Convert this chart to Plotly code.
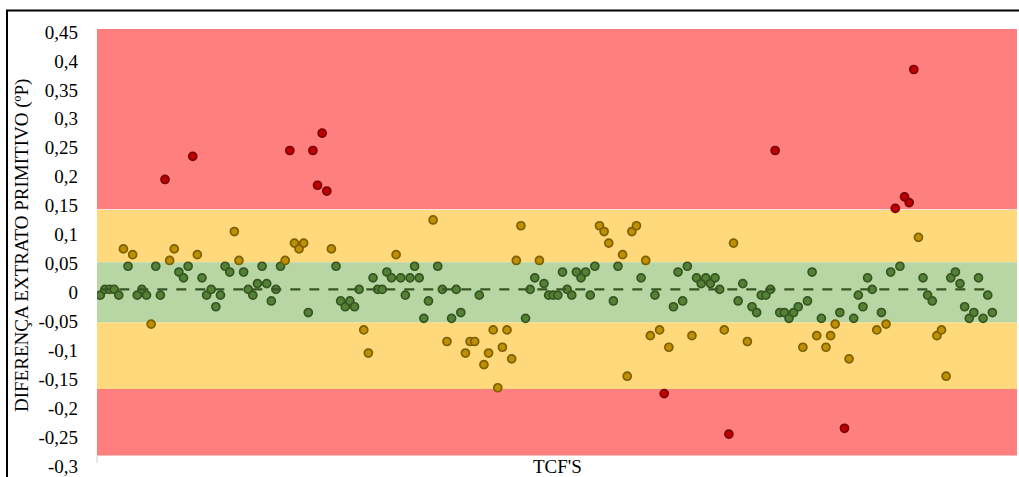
import plotly.graph_objects as go

# Diferença de extrato primitivo por TCF (ºP)
diferenca = [
    -0.01, 0.00, 0.00, 0.00, -0.01, 0.07, 0.04, 0.06, -0.01, 0.00,
    -0.01, -0.06, 0.04, -0.01, 0.19, 0.05, 0.07, 0.03, 0.02, 0.04,
    0.23, 0.06, 0.02, -0.01, 0.00, -0.03, -0.01, 0.04, 0.03, 0.10,
    0.05, 0.03, 0.00, -0.01, 0.01, 0.04, 0.01, -0.02, 0.00, 0.04,
    0.05, 0.24, 0.08, 0.07, 0.08, -0.04, 0.24, 0.18, 0.27, 0.17,
    0.07, 0.04, -0.02, -0.03, -0.02, -0.03, 0.00, -0.07, -0.11, 0.02,
    0.00, 0.00, 0.03, 0.02, 0.06, 0.02, -0.01, 0.02, 0.04, 0.02,
    -0.05, -0.02, 0.12, 0.04, 0.00, -0.09, -0.05, 0.00, -0.04, -0.11,
    -0.09, -0.09, -0.01, -0.13, -0.11, -0.07, -0.17, -0.10, -0.07, -0.12,
    0.05, 0.11, -0.05, 0.00, 0.02, 0.05, 0.01, -0.01, -0.01, -0.01,
    0.03, 0.00, -0.01, 0.03, 0.02, 0.03, -0.01, 0.04, 0.11, 0.10,
    0.08, -0.02, 0.04, 0.06, -0.15, 0.10, 0.11, 0.02, 0.05, -0.08,
    -0.01, -0.07, -0.18, -0.10, -0.03, 0.03, -0.02, 0.04, -0.08, 0.02,
    0.01, 0.02, 0.01, 0.02, 0.00, -0.07, -0.25, 0.08, -0.02, 0.01,
    -0.09, -0.03, -0.04, -0.01, -0.01, 0.00, 0.24, -0.04, -0.04, -0.05,
    -0.04, -0.03, -0.10, -0.02, 0.03, -0.08, -0.05, -0.10, -0.08, -0.06,
    -0.04, -0.24, -0.12, -0.05, -0.01, -0.03, 0.02, 0.00, -0.07, -0.04,
    -0.06, 0.03, 0.14, 0.04, 0.16, 0.15, 0.38, 0.09, 0.02, -0.01,
    -0.02, -0.08, -0.07, -0.15, 0.02, 0.03, 0.01, -0.03, -0.05, -0.04,
    0.02, -0.05, -0.01, -0.04,
]
tcfs = list(range(len(diferenca)))

# Limites das faixas de controle
limite_sup_controle = 0.137
limite_sup_alerta = 0.047
limite_inf_alerta = -0.057
limite_inf_controle = -0.172
eixo_min, eixo_max = -0.3, 0.45
faixa_inferior_fim = -0.287

tick_vals = [0.45, 0.4, 0.35, 0.3, 0.25, 0.2, 0.15, 0.1, 0.05, 0.0,
             -0.05, -0.1, -0.15, -0.2, -0.25, -0.3]
tick_text = ["0,45", "0,4", "0,35", "0,3", "0,25", "0,2", "0,15", "0,1", "0,05", "0",
             "-0,05", "-0,1", "-0,15", "-0,2", "-0,25", "-0,3"]

RED_BAND = "#FF7F7F"
YELLOW_BAND = "#FFD97B"
GREEN_BAND = "#B7D6A4"


def cor_ponto(v):
    if v > limite_sup_controle or v < limite_inf_controle:
        return "#C00000", "#7A0000"
    if v > limite_sup_alerta or v < limite_inf_alerta:
        return "#BF9000", "#7F6000"
    return "#548235", "#375623"


fills = [cor_ponto(v)[0] for v in diferenca]
borders = [cor_ponto(v)[1] for v in diferenca]

fig = go.Figure()

fig.add_trace(go.Scatter(
    x=tcfs, y=diferenca, mode="markers",
    marker=dict(size=8, color=fills, line=dict(color=borders, width=1.7)),
    showlegend=False, hoverinfo="y",
))

fig.add_trace(go.Scatter(
    x=tcfs, y=[0.0] * len(tcfs), mode="lines",
    line=dict(color="#375623", width=2.2, dash="10px,9px"),
    showlegend=False, hoverinfo="skip",
))

bands = [
    (limite_sup_controle + 0.0015, eixo_max, RED_BAND),
    (limite_sup_alerta, limite_sup_controle, YELLOW_BAND),
    (limite_inf_alerta, limite_sup_alerta, GREEN_BAND),
    (limite_inf_controle, limite_inf_alerta, YELLOW_BAND),
    (faixa_inferior_fim, limite_inf_controle, RED_BAND),
]
shapes = []
for y0, y1, c in bands:
    shapes.append(dict(type="rect", xref="paper", yref="y", x0=0, x1=1,
                       y0=y0, y1=y1, fillcolor=c, line=dict(width=0),
                       layer="below"))

# thin axis line left visible under the bands
shapes.append(dict(type="line", xref="paper", yref="y", x0=0, x1=0,
                   y0=eixo_min, y1=faixa_inferior_fim,
                   line=dict(color="#D0D0D0", width=1)))

# outer chart frame (top and left edges)
PW, PL, PT, PH = 920, 97, 29, 434
def px_x(px):
    return (px - PL) / PW
def px_y(py):
    return (PT + PH - py) / PH

shapes.append(dict(type="line", xref="paper", yref="paper",
                   x0=px_x(6), x1=px_x(1019), y0=px_y(10.5), y1=px_y(10.5),
                   line=dict(color="black", width=2)))
shapes.append(dict(type="line", xref="paper", yref="paper",
                   x0=px_x(7), x1=px_x(7), y0=px_y(10.5), y1=px_y(480),
                   line=dict(color="black", width=2)))

serif = "Liberation Serif"

fig.update_layout(
    width=1019, height=477,
    margin=dict(l=PL, r=1019 - PL - PW, t=PT, b=477 - PT - PH),
    paper_bgcolor="white", plot_bgcolor="white",
    shapes=shapes,
    font=dict(family=serif, size=19, color="black"),
    xaxis=dict(range=[-0.714, 198.33], showgrid=False, zeroline=False,
               showticklabels=False, showline=False, ticks="", automargin=False),
    yaxis=dict(range=[eixo_min, eixo_max], tickvals=tick_vals, ticktext=tick_text,
               showgrid=False, zeroline=False, showline=False, ticks="",
               ticklabelstandoff=18, ticklabelshift=3, automargin=False,
               tickfont=dict(family=serif, size=19, color="black")),
    annotations=[
        dict(text="TCF'S", xref="paper", yref="paper", x=0.5, y=px_y(466),
             showarrow=False, xanchor="center", yanchor="middle",
             font=dict(family=serif, size=19, color="black")),
        dict(text="DIFERENÇA EXTRATO PRIMITIVO (ºP)", xref="paper", yref="paper",
             x=px_x(22), y=px_y(246), textangle=-90, showarrow=False,
             xanchor="center", yanchor="middle",
             font=dict(family=serif, size=19, color="black")),
    ],
)

fig.write_html("out.html")
